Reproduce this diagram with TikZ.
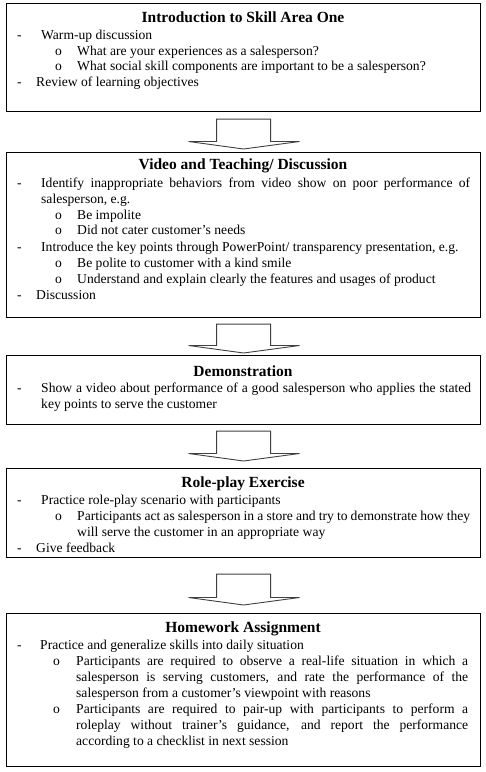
\documentclass[tikz,border=0pt]{standalone}
\usepackage{fontspec}
\setmainfont{Liberation Serif}
\usetikzlibrary{calc}
\tikzset{
  box/.style={draw=black, line width=1.1pt, rectangle, inner sep=0pt, anchor=north west},
  barrow/.style={draw=black!75, line width=0.9pt, line join=miter},
  title/.style={font=\fontsize{15.5}{18}\selectfont\bfseries, inner sep=0pt, anchor=base},
  txt/.style={font=\fontsize{13.6}{16}\selectfont, inner sep=0pt, anchor=base west},
  par/.style={txt, text width=#1, align=justify},
  mark1/.style={txt},
}
\newcommand{\flowarrow}[4]{%
  \draw[barrow] ($(#1.south)+(-27,#3)$) -- ($(#1.south)+(27,#3)$)
    -- ($(#2.north)+(27,-#4-7.5)$) -- ($(#2.north)+(56,-#4-7.5)$)
    -- ($(#2.north)+(0,-#4)$) -- ($(#2.north)+(-55,-#4-7.5)$)
    -- ($(#2.north)+(-27,-#4-7.5)$) -- cycle;}
\begin{document}
\begin{tikzpicture}[x=1pt,y=-1pt]
\useasboundingbox (0,0) rectangle (486,772);
\fill[white] (0,0) rectangle (486,772);
% boxes
\node[box, minimum width=474pt, minimum height=108pt] (b1) at (6,3) {};
\node[box, minimum width=474pt, minimum height=165pt] (b2) at (6,152) {};
\node[box, minimum width=474pt, minimum height=69pt] (b3) at (6,355) {};
\node[box, minimum width=474pt, minimum height=89pt] (b4) at (6,468) {};
\node[box, minimum width=474pt, minimum height=153pt] (b5) at (6,613) {};
% arrows
\flowarrow{b1}{b2}{7}{3}
\flowarrow{b2}{b3}{6}{2}
\flowarrow{b3}{b4}{6}{7}
\flowarrow{b4}{b5}{16}{8}
% box 1
\node[title] (t1) at (243,22.5) {Introduction to Skill Area One};
\node[txt] (d11) at (17,39) {-};
\node[txt] (l11) at (41,39) {Warm-up discussion};
\node[txt] (o11) at (55,55) {o};
\node[txt] (l12) at (77,55) {What are your experiences as a salesperson?};
\node[txt] (o12) at (55,70.5) {o};
\node[txt] (l13) at (77,70.5) {What social skill components are important to be a salesperson?};
\node[txt] (d12) at (17,86) {-};
\node[txt] (l14) at (36,86) {Review of learning objectives};
% box 2
\node[title] (t2) at (243,169) {Video and Teaching/ Discussion};
\node[txt] (d21) at (17,187) {-};
\node[par=429pt] (l21) at (41,187) {Identify inappropriate behaviors from video show on poor performance of\linebreak salesperson, e.g.};
\node[txt] (o21) at (55,219) {o};
\node[txt] (l22) at (77,219) {Be impolite};
\node[txt] (o22) at (55,234.5) {o};
\node[txt] (l23) at (77,234.5) {Did not cater customer’s needs};
\node[txt] (d22) at (17,251) {-};
\node[txt] (l24) at (41,251) {Introduce the key points through PowerPoint/ transparency presentation, e.g.};
\node[txt] (o23) at (55,267) {o};
\node[txt] (l25) at (77,267) {Be polite to customer with a kind smile};
\node[txt] (o24) at (55,283) {o};
\node[txt] (l26) at (77,283) {Understand and explain clearly the features and usages of product};
\node[txt] (d23) at (17,299) {-};
\node[txt] (l27) at (36,299) {Discussion};
% box 3
\node[title] (t3) at (243,376) {Demonstration};
\node[txt] (d31) at (17,392.5) {-};
\node[par=430pt] (l31) at (41,392.5) {Show a video about performance of a good salesperson who applies the stated\linebreak key points to serve the customer};
% box 4
\node[title] (t4) at (243,487) {Role-play Exercise};
\node[txt] (d41) at (17,504) {-};
\node[txt] (l41) at (41,504) {Practice role-play scenario with participants};
\node[txt] (o41) at (55,520) {o};
\node[par=393pt] (l42) at (77,520) {Participants act as salesperson in a store and try to demonstrate how they\linebreak will serve the customer in an appropriate way};
\node[txt] (d42) at (17,552) {-};
\node[txt] (l43) at (36,552) {Give feedback};
% box 5
\node[title] (t5) at (243,632) {Homework Assignment};
\node[txt] (d51) at (17,649) {-};
\node[txt] (l51) at (40,649) {Practice and generalize skills into daily situation};
\node[txt] (o51) at (53,665) {o};
\node[par=392pt] (l52) at (76,665) {Participants are required to observe a real-life situation in which a\linebreak salesperson is serving customers, and rate the performance of the\linebreak salesperson from a customer’s viewpoint with reasons};
\node[txt] (o52) at (53,713) {o};
\node[par=392pt] (l53) at (76,713) {Participants are required to pair-up with participants to perform a\linebreak roleplay without trainer’s guidance, and report the performance\linebreak according to a checklist in next session};
\end{tikzpicture}
\end{document}
